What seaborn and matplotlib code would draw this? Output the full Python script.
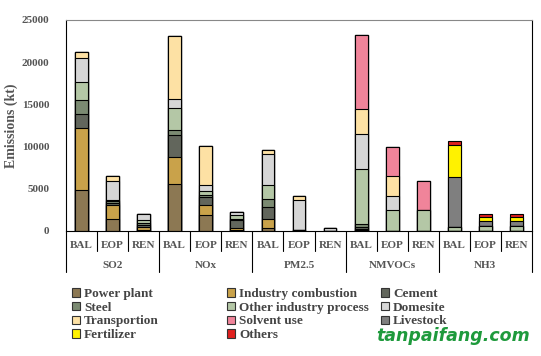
import numpy as np
import pandas as pd
import matplotlib
matplotlib.use("Agg")
import matplotlib.pyplot as plt
import matplotlib.transforms as mtrans
from matplotlib.patches import Patch
import seaborn as sns

# ---------------- data ----------------
pollutants = ["SO2", "NOx", "PM2.5", "NMVOCs", "NH3"]
scenarios = ["BAL", "EOP", "REN"]

power_plant   = [4900, 1470, 100, 5530, 1940, 100, 360, 60, 20, 100, 30, 0, 0, 0, 0]
industry_comb = [7350, 1610, 370, 3240, 1110, 260, 1030, 50, 20, 140, 20, 0, 0, 0, 0]
cement        = [1650, 250, 300, 2650, 980, 1000, 1450, 60, 0, 230, 0, 0, 0, 0, 0]
steel         = [1600, 200, 180, 510, 280, 110, 920, 0, 0, 320, 0, 0, 0, 0, 0]
other_ind     = [2100, 200, 320, 2690, 390, 470, 1650, 0, 0, 6600, 2400, 2450, 470, 590, 590]
domesite      = [2940, 2180, 790, 1070, 800, 280, 3680, 3550, 360, 4150, 1700, 0, 0, 0, 0]
transport     = [670, 600, 0, 7380, 4570, 0, 470, 470, 0, 2960, 2370, 0, 0, 0, 0]
solvent       = [0, 0, 0, 0, 0, 0, 0, 0, 0, 8690, 3430, 3470, 0, 0, 0]
livestock     = [0, 0, 0, 0, 0, 0, 0, 0, 0, 0, 0, 0, 5930, 600, 600]
fertilizer    = [0, 0, 0, 0, 0, 0, 0, 0, 0, 0, 0, 0, 3840, 470, 470]
others        = [0, 0, 0, 0, 0, 0, 0, 0, 0, 0, 0, 0, 420, 350, 350]

source_names = ["Power plant", "Industry combustion", "Cement", "Steel",
                "Other industry process", "Domesite", "Transportion",
                "Solvent use", "Livestock", "Fertilizer", "Others"]
source_values = [power_plant, industry_comb, cement, steel, other_ind, domesite,
                 transport, solvent, livestock, fertilizer, others]
source_colors = ["#8C7853", "#C9A24A", "#62665C", "#7B8A72", "#B4C7A6", "#D6D6D6",
                 "#FDE1A4", "#F0849A", "#7F7F7F", "#FFF200", "#E0201E"]

bar_labels = [f"{p}-{s}" for p in pollutants for s in scenarios]

# ---------------- figure ----------------
sns.set_theme(style="white")
plt.rcParams["font.family"] = ["Liberation Serif", "DejaVu Serif"]
plt.rcParams["font.weight"] = "bold"
txt_col = "#555555"

fig = plt.figure(figsize=(5.41, 3.56), dpi=100)
ax = fig.add_axes([66 / 541, 1 - 231 / 356, (532 - 66) / 541, (231 - 20) / 356])

vals = np.array(source_values, dtype=float)
cum = np.cumsum(vals, axis=0)
for i in range(len(source_names) - 1, -1, -1):
    df = pd.DataFrame({"bar": bar_labels, "value": cum[i]})
    sns.barplot(data=df, x="bar", y="value", order=bar_labels, color=source_colors[i],
                saturation=1, edgecolor="black", linewidth=0.8, width=0.41,
                errorbar=None, ax=ax)

ax.set_xlim(-0.5, len(bar_labels) - 0.5)
ax.set_ylim(0, 25000)
ax.set_yticks(np.arange(0, 25001, 5000))
ax.set_yticklabels([str(v) for v in range(0, 25001, 5000)], color=txt_col,
                   fontsize=8, fontweight="bold")
ax.set_xticks(range(len(bar_labels)))
ax.set_xticklabels(scenarios * len(pollutants), color=txt_col, fontsize=8,
                   fontweight="bold")
ax.tick_params(axis="x", direction="out", length=3, width=0.8, pad=4, color="black")
ax.tick_params(axis="y", direction="out", length=3, width=0.8, pad=9, color="black")
ax.set_xlabel("")
ax.set_ylabel("Emissions (kt)", color=txt_col, fontsize=10, fontweight="bold", labelpad=3)

for side in ["left", "bottom", "right"]:
    ax.spines[side].set_color("black")
    ax.spines[side].set_linewidth(0.8)
ax.spines["top"].set_color("#888888")
ax.spines["top"].set_linewidth(0.8)

# separators below axis
tr = mtrans.blended_transform_factory(ax.transData, ax.transAxes)
n = len(bar_labels)
for k in range(n + 1):
    xpos = k - 0.5
    if k % 3 == 0:
        ax.plot([xpos, xpos], [0, -0.195], transform=tr, color="black", lw=0.8, clip_on=False)
    else:
        ax.plot([xpos, xpos], [0, -0.095], transform=tr, color="black", lw=0.8, clip_on=False)
for g, p in enumerate(pollutants):
    ax.text(g * 3 + 1, -0.162, p, transform=tr, ha="center", va="center",
            fontsize=8, fontweight="bold", color=txt_col)

# legend in three columns (row-wise order)
handles = [Patch(facecolor=c, edgecolor="#333333", linewidth=0.8) for c in source_colors]
col_x = [72 / 541, 227 / 541, 381 / 541]
for c in range(3):
    idx = list(range(c, len(source_names), 3))
    leg = fig.legend([handles[i] for i in idx], [source_names[i] for i in idx],
                     loc="upper left", bbox_to_anchor=(col_x[c], 1 - 288 / 356),
                     frameon=False, fontsize=9.5, handlelength=0.6, handleheight=0.6,
                     handletextpad=0.3, labelspacing=0.13, borderpad=0, borderaxespad=0)
    for t in leg.get_texts():
        t.set_color("#444444")
        t.set_fontweight("bold")

fig.text(0.98, 1 - 336 / 356, "tanpaifang.com", ha="right", va="center",
         fontsize=12.5, fontweight="bold", fontstyle="italic", color="#1E9A3C",
         family=["DejaVu Sans"])

fig.savefig("out.png", dpi=100)
